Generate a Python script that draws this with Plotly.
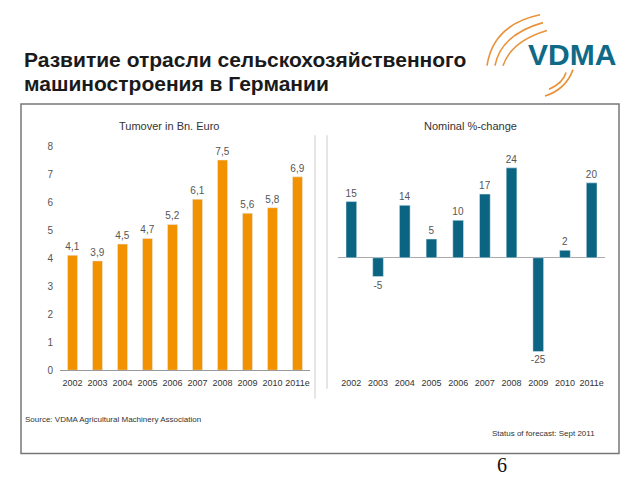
import plotly.graph_objects as go

W, H = 640, 480

years = ["2002", "2003", "2004", "2005", "2006", "2007", "2008", "2009", "2010", "2011e"]
turnover = [4.1, 3.9, 4.5, 4.7, 5.2, 6.1, 7.5, 5.6, 5.8, 6.9]
pct_change = [15, -5, 14, 5, 10, 17, 24, -25, 2, 20]
turnover_ticks = [0, 1, 2, 3, 4, 5, 6, 7, 8]

title_line1 = "Развитие отрасли сельскохозяйственного"
title_line2 = "машиностроения в Германии"
left_title = "Tumover in Bn. Euro"
right_title = "Nominal %-change"
source_text = "Source: VDMA Agricultural Machinery Association"
status_text = "Status of forecast: Sept 2011"

ORANGE = "#F39200"
TEAL = "#0B6482"
LABEL = "#555555"


def px(x):
    return x / W


def py(y):
    return 1 - y / H


fig = go.Figure()

fig.add_trace(go.Bar(
    x=years, y=turnover, marker_color=ORANGE,
    text=[f"{v:.1f}".replace(".", ",") for v in turnover],
    textposition="outside", cliponaxis=False, constraintext="none",
    textfont=dict(size=10, color=LABEL, family="Liberation Sans"),
    xaxis="x", yaxis="y", showlegend=False,
))
fig.add_trace(go.Bar(
    x=years, y=pct_change, marker_color=TEAL,
    text=[str(v) for v in pct_change],
    textposition="outside", cliponaxis=False, constraintext="none",
    textfont=dict(size=10, color=LABEL, family="Liberation Sans"),
    xaxis="x2", yaxis="y2", showlegend=False,
))

bottom = py(373)

fig.update_layout(
    width=W, height=H, autosize=False,
    margin=dict(l=0, r=0, t=0, b=0),
    paper_bgcolor="white", plot_bgcolor="white",
    bargap=0.6,
    font=dict(family="Liberation Sans", color="#333333"),
    xaxis=dict(domain=[px(60), px(310)], anchor="y", type="category",
               showline=True, linecolor="#999999", linewidth=1,
               ticks="outside", ticklen=4, tickcolor="rgba(0,0,0,0)", tickangle=0,
               tickfont=dict(size=9, color="#333333"), showgrid=False),
    yaxis=dict(domain=[bottom, py(144)], anchor="x", range=[0, 8],
               tickvals=turnover_ticks, showgrid=False, zeroline=False,
               ticks="", ticklabelstandoff=6,
               showline=False, tickfont=dict(size=10, color=LABEL)),
    xaxis2=dict(domain=[px(338), px(605)], anchor="y2", type="category",
                showline=False, ticks="outside", ticklen=4, tickcolor="rgba(0,0,0,0)",
                tickangle=0,
                tickfont=dict(size=9, color="#333333"), showgrid=False),
    yaxis2=dict(domain=[bottom, py(151)], anchor="x2", range=[-30, 28],
                showticklabels=False, showgrid=False, zeroline=True, ticks="",
                zerolinecolor="#AAAAAA", zerolinewidth=1, showline=False),
)

shapes = [
    dict(type="rect", xref="paper", yref="paper",
         x0=px(21), x1=px(619), y0=py(458), y1=py(101),
         line=dict(color="#777777", width=1.5)),
    dict(type="line", xref="paper", yref="paper",
         x0=px(315), x1=px(315), y0=py(402), y1=py(133),
         line=dict(color="#CCCCCC", width=1)),
    dict(type="line", xref="paper", yref="paper",
         x0=px(327), x1=px(327), y0=py(392), y1=py(133),
         line=dict(color="#CCCCCC", width=1)),
]


def arc(p):
    return dict(type="path", xref="paper", yref="paper", path=p,
                line=dict(color="#E9923A", width=1.6))


def P(*pts):
    (x0, y0), (x1, y1), (x2, y2) = pts
    return (f"M {px(x0)},{py(y0)} Q {px(x1)},{py(y1)} {px(x2)},{py(y2)}")


shapes += [
    arc(P((487, 62), (493, 20), (540, 10))),
    arc(P((495, 62), (501, 30), (543, 18))),
    arc(P((503, 62), (511, 37), (547, 26))),
    arc(P((545, 93), (566, 86), (573, 66))),
    arc(P((549, 86), (563, 80), (566, 69))),
]
fig.update_layout(shapes=shapes)


def note(text, x, y, xanchor="center", size=11, color="#333333", family="Liberation Sans", align="center"):
    return dict(text=text, x=px(x), y=py(y), xref="paper", yref="paper",
                xanchor=xanchor, yanchor="middle", align=align, showarrow=False,
                font=dict(size=size, color=color, family=family))


ann = [
    note(f"<b>{title_line1}</b>", 22, 56, xanchor="left", size=21, color="#1A1A1A", align="left"),
    note(f"<b>{title_line2}</b>", 22, 80, xanchor="left", size=21, color="#1A1A1A", align="left"),
    note("<b>VDMA</b>", 572, 51, size=30, color="#0E6A86"),
    note(left_title, 169, 124),
    note(right_title, 470, 124),
    note(source_text, 23, 423, xanchor="left", size=8),
    note(status_text, 597, 438, xanchor="right", size=8),
    note("6", 502, 470, size=20, color="#111111", family="Liberation Serif"),
]
fig.update_layout(annotations=ann)

fig.write_html(
    "out.html",
    config={"displayModeBar": False},
    post_script="document.body.style.margin='0';document.body.style.padding='0';"
                "document.body.style.overflow='hidden';",
)
